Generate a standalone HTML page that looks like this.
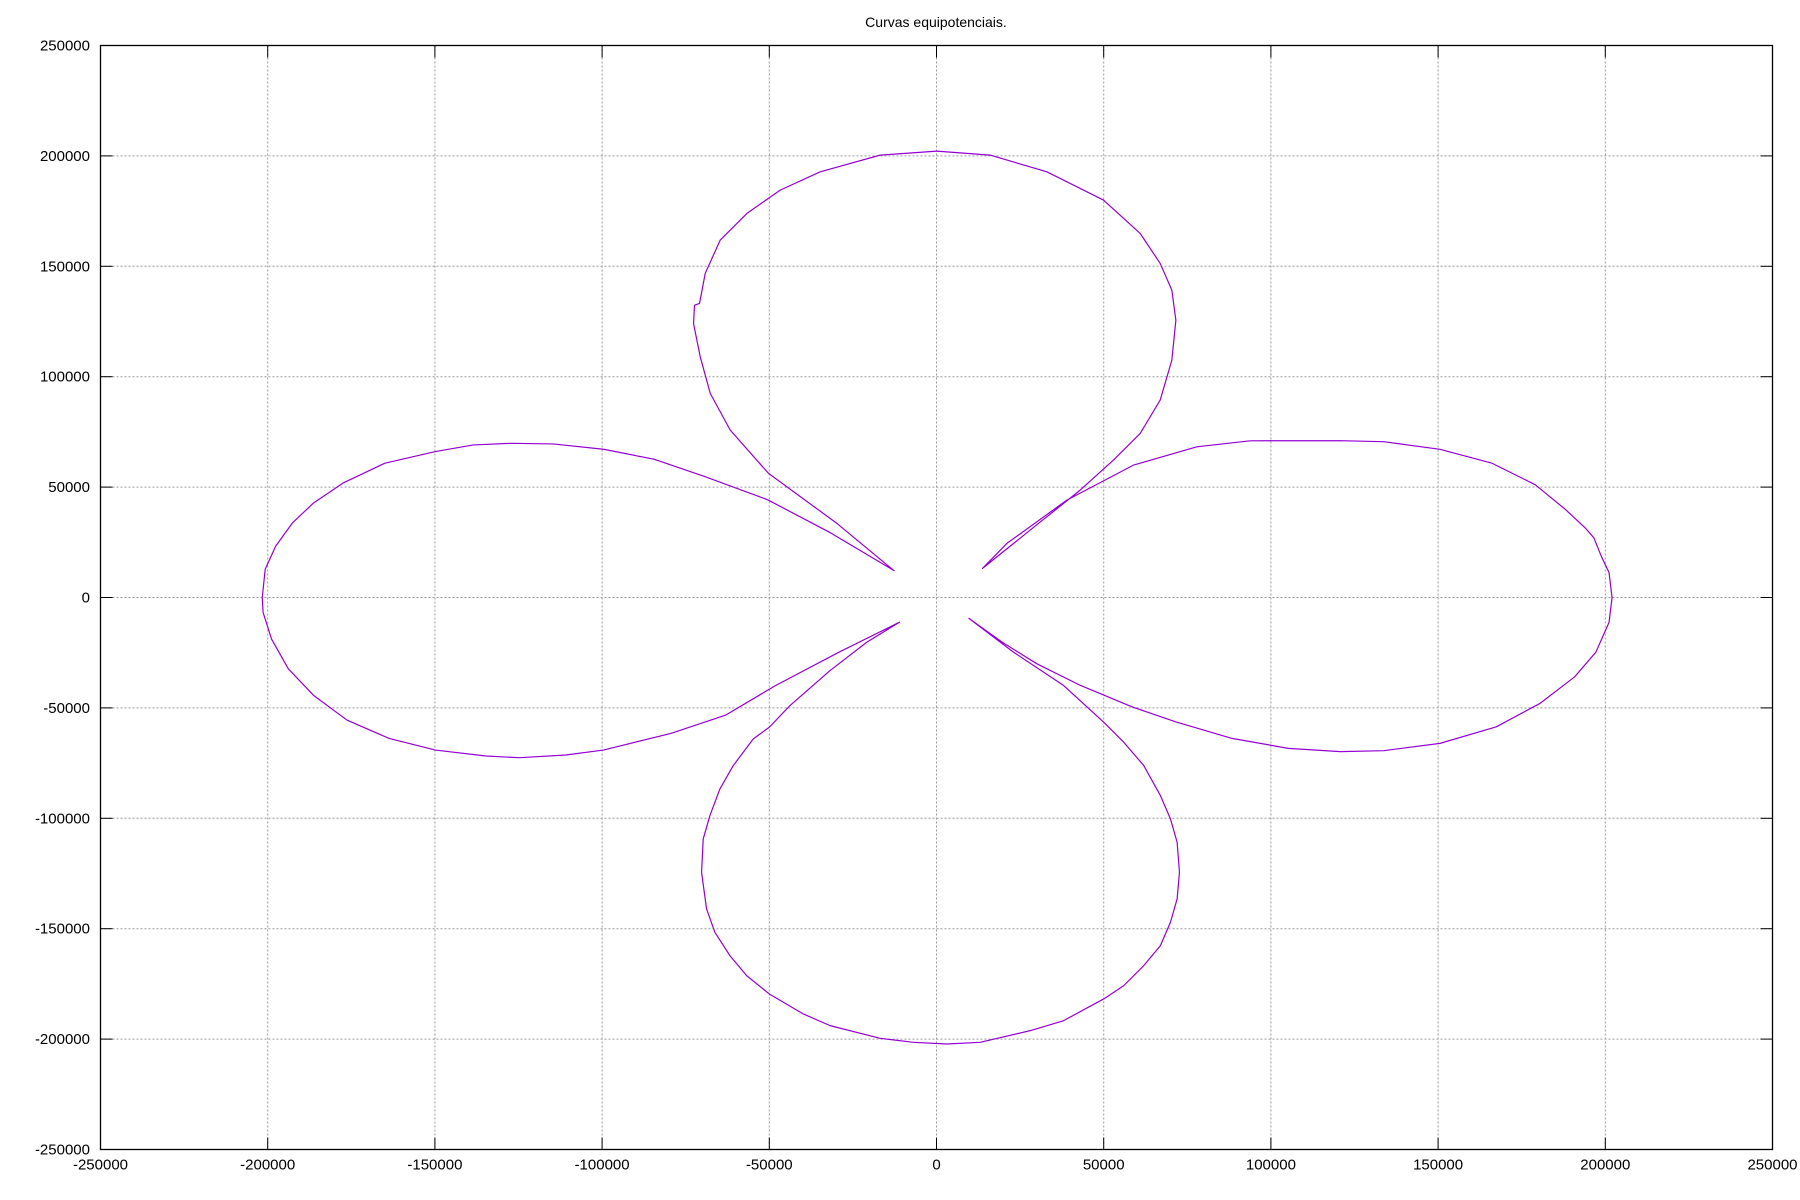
<!DOCTYPE html>
<html><head><meta charset="utf-8"><style>
body{margin:0;background:#fff;}
svg{display:block;font-family:"Liberation Sans",sans-serif;}
</style></head><body>
<svg id="chart" width="1800" height="1200" xmlns="http://www.w3.org/2000/svg">
<text x="936" y="27" font-size="14" text-anchor="middle">Curvas equipotenciais.</text>
<g id="grid"></g><g id="ticks"></g><g id="labels"></g>
<path id="curve" fill="none" stroke="#9400d3" stroke-width="1.2" stroke-linejoin="round"/>
<rect x="100.5" y="45.5" width="1672" height="1104" fill="none" stroke="#000" stroke-width="1.3"/>
</svg>
<script>
const xTicks=[-250000,-200000,-150000,-100000,-50000,0,50000,100000,150000,200000,250000];
const yTicks=[-250000,-200000,-150000,-100000,-50000,0,50000,100000,150000,200000,250000];
const curveX=[-12560,-29780,-50230,-61680,-67660,-70650,-72660,-72360,-70860,-69160,-64670,-56690,-46730,-34770,-16830,120,16060,33010,49930,60910,66890,70380,71580,70380,66890,60910,52920,42970,28020,13750,
21050,38990,58900,77860,93800,
120760,133720,150570,166120,179080,188150,193990,196580,198780,201120,202020,201120,197170,190750,180380,167420,150570,133720,120760,105210,88360,71510,58550,43000,30040,19670,9690,
23050,38020,50000,55990,61970,66960,69960,71960,72650,71960,69960,66960,61970,55990,50000,38020,28040,13070,3090,-6890,-16870,-31840,-39820,-50000,-56790,-61780,-66270,-68760,-70260,-69760,-67760,-64770,-60780,-54790,-50000,-43810,-31840,-20860,-11080,
-29170,-48030,-63110,-79450,-99570,-110880,-124700,-134760,-149840,-163670,-176240,-186300,-193840,-198870,-201380,-201630,-200750,-197610,-192580,-186300,-177500,-164930,-149840,-138530,-127220,-114650,-99570,-84480,-69400,-50550,-31690,-12830];
const curveY=[11960,33560,56200,75800,92440,109000,124100,132400,133200,146800,161900,173960,184500,192800,200360,202170,200360,192800,180000,164900,151300,139200,125600,107500,89400,74300,62230,48640,30530,13180,
24500,44110,59960,68250,70970,
71020,70570,67120,60810,51050,39790,31530,27030,18770,11260,0,-11260,-24770,-36040,-48050,-58560,-66070,-69370,-69820,-68320,-63810,-56310,-49550,-39790,-30030,-20270,-9460,
-24780,-39880,-56490,-65550,-76120,-89710,-100280,-110850,-124440,-136520,-147090,-157660,-166720,-175780,-181820,-191640,-196170,-201450,-202210,-201450,-199640,-193900,-188620,-179560,-171250,-162190,-151620,-141050,-124440,-109340,-98770,-86690,-76120,-64040,-58760,-48940,-33090,-20260,-11190,
-24780,-39800,-53320,-61580,-69090,-71340,-72550,-71800,-69090,-63840,-55570,-44310,-32290,-18780,-6760,0,12770,23280,33800,42810,51820,60830,66090,69090,69840,69540,67140,62630,54820,44310,29290,12320];
const L=100.5,R=1772.5,T=45.5,B=1149.5;
const sx=v=>L+(v+250000)/500000*(R-L);
const sy=v=>B-(v+250000)/500000*(B-T);
const NS="http://www.w3.org/2000/svg";
function mk(tag,attrs,parent){const e=document.createElementNS(NS,tag);for(const k in attrs)e.setAttribute(k,attrs[k]);document.getElementById(parent).appendChild(e);return e;}
xTicks.forEach(v=>{const x=sx(v);
 if(v>-250000&&v<250000){const g=mk('line',{x1:x,x2:x,y1:T,y2:B,stroke:'#999','stroke-dasharray':'2,2'},'grid');
 
 
 const t1=mk('line',{x1:x,x2:x,y1:B,y2:B-12,stroke:'#000'},'ticks');
 
 
 const t2=mk('line',{x1:x,x2:x,y1:T,y2:T+12,stroke:'#000'},'ticks');
 
 }
 const l=mk('text',{x:x,y:B+20,'font-size':15,'text-anchor':'middle'},'labels');l.textContent=v;
 
 
});
yTicks.forEach(v=>{const y=sy(v);
 if(v>-250000&&v<250000){const g=mk('line',{x1:L,x2:R,y1:y,y2:y,stroke:'#999','stroke-dasharray':'2,2'},'grid');
 
 
 const t1=mk('line',{x1:L,x2:L+12,y1:y,y2:y,stroke:'#000'},'ticks');
 
 
 const t2=mk('line',{x1:R,x2:R-12,y1:y,y2:y,stroke:'#000'},'ticks');
 
 }
 const l=mk('text',{x:90,y:y+5,'font-size':15,'text-anchor':'end'},'labels');l.textContent=v;
 
 
});
const d=curveX.map((v,i)=>(i?'L':'M')+sx(v).toFixed(2)+','+sy(curveY[i]).toFixed(2)).join(' ');
document.getElementById('curve').setAttribute('d',d);
</script>
</body></html>
